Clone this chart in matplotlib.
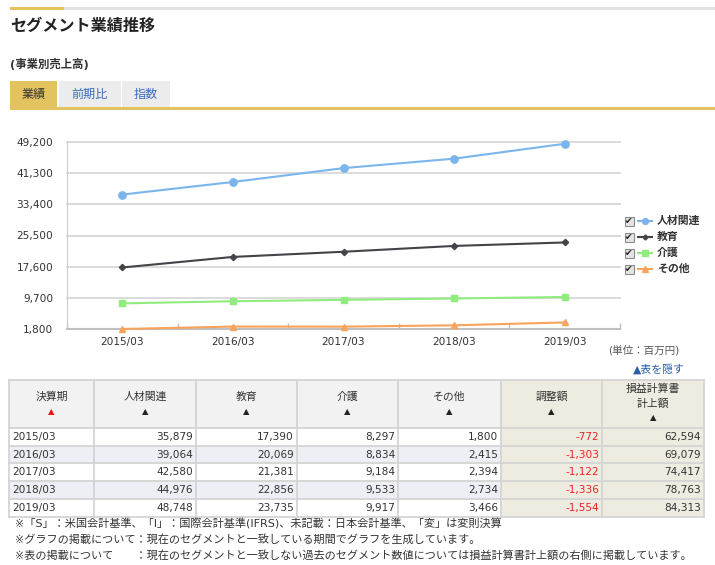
# segment results page: line chart + table (values in million yen)
import matplotlib.pyplot as plt
from matplotlib.patches import Rectangle
from matplotlib.lines import Line2D
import numpy as np

plt.rcParams['font.family'] = ['DejaVu Sans', 'Noto Sans CJK JP']

# data
periods = ['2015/03', '2016/03', '2017/03', '2018/03', '2019/03']
jinzai = [35879, 39064, 42580, 44976, 48748]
kyoiku = [17390, 20069, 21381, 22856, 23735]
kaigo = [8297, 8834, 9184, 9533, 9917]
sonota = [1800, 2415, 2394, 2734, 3466]
chosei = [-772, -1303, -1122, -1336, -1554]
keijo = [62594, 69079, 74417, 78763, 84313]

segments = ['人材関連', '教育', '介護', 'その他']
yticks = [1800, 9700, 17600, 25500, 33400, 41300, 49200]
tabs = ['業績', '前期比', '指数']
headers = ['決算期', '人材関連', '教育', '介護', 'その他', '調整額', '損益計算書\n計上額']
notes = ['※「S」：米国会計基準、「I」：国際会計基準(IFRS)、未記載：日本会計基準、「変」は変則決算',
         '※グラフの掲載について：現在のセグメントと一致している期間でグラフを生成しています。',
         '※表の掲載について　　：現在のセグメントと一致しない過去のセグメント数値については損益計算書計上額の右側に掲載しています。']

colors = ['#7cb5ec', '#434348', '#90ed7d', '#f7a35c']
markers = ['o', 'D', 's', '^']
msizes = [5.3, 3.2, 5.0, 5.0]
series = [jinzai, kyoiku, kaigo, sonota]

W, H = 715, 565
fig = plt.figure(figsize=(W / 100, H / 100), dpi=100)

# page layer in pixel coords
pg = fig.add_axes([0, 0, 1, 1])
pg.set_xlim(0, W)
pg.set_ylim(H, 0)
pg.axis('off')

# header bar + title
pg.add_patch(Rectangle((10, 7), 705, 3, color='#e2e2e2', lw=0))
pg.add_patch(Rectangle((10, 7), 54, 3, color='#e2c35f', lw=0))
pg.text(10, 26, 'セグメント業績推移', fontsize=11.6, weight='bold', va='center', color='#222222')
pg.text(10, 64, '(事業別売上高)', fontsize=8.2, weight='bold', va='center', color='#333333')

# tabs
tab_x = [(10, 47), (59, 62), (122, 48)]
for i, (tx, tw) in enumerate(tab_x):
    pg.add_patch(Rectangle((tx, 81), tw, 27, color='#e2c35f' if i == 0 else '#ececec', lw=0))
    pg.text(tx + tw / 2, 94.5, tabs[i], fontsize=8.7, ha='center', va='center',
            color='#333333' if i == 0 else '#3a6bbf')
pg.add_patch(Rectangle((10, 107), 705, 2.5, color='#e2c35f', lw=0))

# line chart
ax = fig.add_axes([67 / W, (H - 329) / H, (620 - 67) / W, (329 - 142) / H])
ax.set_facecolor('none')
x = np.arange(len(periods))
for vals, c, m, ms in zip(series, colors, markers, msizes):
    ax.plot(x, vals, color=c, marker=m, ms=ms, lw=1.5, clip_on=False, zorder=3)
ax.set_xlim(-0.5, len(periods) - 0.5)
ax.set_ylim(yticks[0], yticks[-1])
ax.set_yticks(yticks)
ax.set_yticklabels([f'{v:,}' for v in yticks])
ax.set_xticks(x)
ax.set_xticklabels(periods)
ax.set_xticks(np.arange(-0.5, len(periods)), minor=True)
ax.tick_params(axis='y', length=0, pad=10, labelsize=7.6, labelcolor='#333333')
ax.tick_params(axis='x', which='major', length=0, pad=6, labelsize=7.6, labelcolor='#333333')
ax.tick_params(axis='x', which='minor', direction='in', length=4, color='#c0c0c0', width=1)
ax.grid(axis='y', color='#d8d8d8', lw=1.3)
for gl in ax.get_ygridlines():
    gl.set_clip_on(False)
for s in ['top', 'right']:
    ax.spines[s].set_visible(False)
ax.spines['left'].set_color('#cccccc')
ax.spines['bottom'].set_color('#c0c0c0')
ax.spines['bottom'].set_linewidth(1.5)

# legend with checkboxes
for i, name in enumerate(segments):
    ly = 221 + 16 * i
    pg.add_patch(Rectangle((624.5, ly - 4.5), 9, 9, facecolor='#e4e4e4', edgecolor='#8a8a8a', lw=0.8))
    pg.text(629, ly + 0.5, '✔', fontsize=6.5, ha='center', va='center', color='#222222')
    pg.add_line(Line2D([638, 645, 652], [ly, ly, ly], color=colors[i], lw=1.5,
                       marker=markers[i], ms=msizes[i] * 0.8, markevery=[1]))
    pg.text(657, ly, name, fontsize=7.8, weight='bold', va='center', color='#333333')

pg.text(608, 350, '(単位：百万円)', fontsize=7.6, va='center', color='#555555')
pg.text(633, 369, '▲表を隠す', fontsize=7.8, va='center', color='#2a5fa8')

# table
col_edges = [9, 94, 196, 297, 398, 501, 602, 704]
head_top, head_bot = 380, 428
row_h = 17.7
rows = list(zip(periods, jinzai, kyoiku, kaigo, sonota, chosei, keijo))
beige = '#eeebe0'

for j in range(len(headers)):
    x0, x1 = col_edges[j], col_edges[j + 1]
    pg.add_patch(Rectangle((x0, head_top), x1 - x0, head_bot - head_top,
                           facecolor=beige if j >= 5 else '#f2f2f2', lw=0))
    xc = (x0 + x1) / 2
    arrow_c = '#ee1111' if j == 0 else '#222222'
    if '\n' in headers[j]:
        l1, l2 = headers[j].split('\n')
        pg.text(xc, 389, l1, fontsize=7.8, ha='center', va='center', color='#333333')
        pg.text(xc, 404, l2, fontsize=7.8, ha='center', va='center', color='#333333')
        pg.text(xc, 418, '▲', fontsize=6, ha='center', va='center', color=arrow_c)
    else:
        pg.text(xc, 397, headers[j], fontsize=7.8, ha='center', va='center', color='#333333')
        pg.text(xc, 412, '▲', fontsize=6, ha='center', va='center', color=arrow_c)

for i, r in enumerate(rows):
    y0 = head_bot + row_h * i
    yc = y0 + row_h / 2
    for j in range(len(r)):
        x0, x1 = col_edges[j], col_edges[j + 1]
        if j >= 5:
            fc = beige
        else:
            fc = '#eeeef5' if i % 2 == 1 else 'white'
        pg.add_patch(Rectangle((x0, y0), x1 - x0, row_h, facecolor=fc, lw=0))
        if j == 0:
            pg.text(x0 + 3, yc, r[j], fontsize=7.6, va='center', color='#333333')
        else:
            pg.text(x1 - 3, yc, f'{r[j]:,}', fontsize=7.6, ha='right', va='center',
                    color='#ee2222' if r[j] < 0 else '#333333')

# table borders
tab_bot = head_bot + row_h * len(rows)
for xe in col_edges:
    pg.plot([xe, xe], [head_top, tab_bot], color='#d4d4d4', lw=1.3)
for ye in [head_top, head_bot] + [head_bot + row_h * k for k in range(1, len(rows) + 1)]:
    pg.plot([col_edges[0], col_edges[-1]], [ye, ye], color='#d4d4d4', lw=1.3)

# footnotes
for k, n in enumerate(notes):
    pg.text(15, 524 + 15.5 * k, n, fontsize=8.0, va='center', color='#333333')

fig.savefig('out.png', dpi=100)
